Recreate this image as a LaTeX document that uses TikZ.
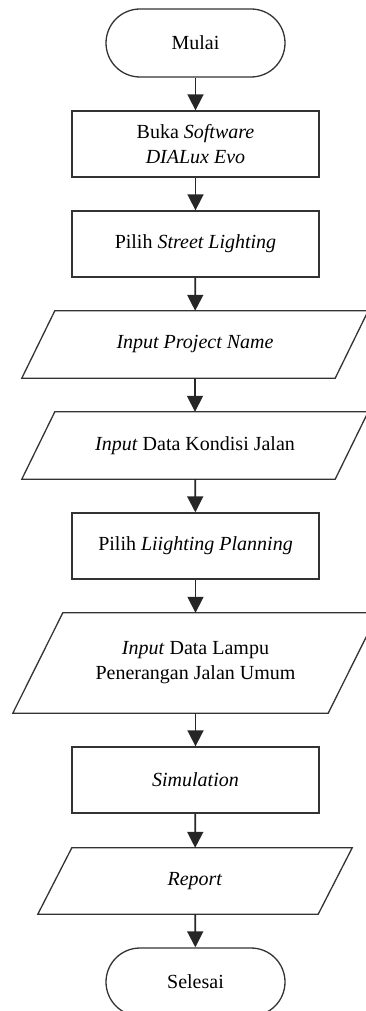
\documentclass[tikz,border=0pt]{standalone}
\usepackage{fontspec}
\setmainfont{Liberation Serif}
\usetikzlibrary{arrows.meta}

\tikzset{
  outline/.style={draw=black!80, line width=1.3pt},
  terminal/.style={outline, rounded corners=34pt, minimum width=179pt, minimum height=68pt, inner sep=0pt, align=center},
  process/.style={outline, minimum width=247pt, minimum height=66pt, inner sep=0pt, align=center},
  iobody/.style={minimum height=67pt, inner sep=0pt, align=center},
  flow/.style={draw=black!85, line width=1.7pt, -{Triangle[width=16pt,length=16pt]}},
}

% parallelogram drawn around an invisible body node: #1 node name, #2 half slant
\newcommand{\slantframe}[2]{%
  \draw[outline] ([xshift=-#2pt]#1.south west) -- ([xshift=-#2pt]#1.south east)
    -- ([xshift=#2pt]#1.north east) -- ([xshift=#2pt]#1.north west) -- cycle;}

\begin{document}
\begin{tikzpicture}[x=1pt, y=-1pt, font=\fontsize{20}{25}\selectfont]
  \useasboundingbox (0,0) rectangle (366,1011);
  \begin{scope}
    \clip (0,0) rectangle (366,1011);

    \node[terminal] (mulai) at (195.5,43) {Mulai};
    \node[process] (buka) at (195.5,144) {Buka \textit{Software}\\\textit{DIALux Evo}};
    \node[process] (street) at (195.5,244) {Pilih \textit{Street Lighting}};
    \node[iobody, minimum width=313pt] (project) at (195,344.5) {\textit{Input Project Name}};
    \slantframe{project}{16.5}
    \node[iobody, minimum width=313pt] (kondisi) at (195,445.5) {\textit{Input} Data Kondisi Jalan};
    \slantframe{kondisi}{16.5}
    \node[process] (planning) at (195.5,546) {Pilih \textit{Liighting Planning}};
    \node[iobody, minimum width=315pt, minimum height=100pt] (lampu) at (195.5,663) {\textit{Input} Data Lampu\\Penerangan Jalan Umum};
    \slantframe{lampu}{25}
    \node[process] (sim) at (195.5,780) {\textit{Simulation}};
    \node[iobody, minimum width=280pt, minimum height=66pt] (report) at (195,881) {\textit{Report}};
    \slantframe{report}{17}
    \node[terminal] (selesai) at (195.5,982) {Selesai};

    \draw[flow] (mulai) -- (buka);
    \draw[flow] (buka) -- (street);
    \draw[flow] (street) -- (project);
    \draw[flow] (project) -- (kondisi);
    \draw[flow] (kondisi) -- (planning);
    \draw[flow] (planning) -- (lampu);
    \draw[flow] (lampu) -- (sim);
    \draw[flow] (sim) -- (report);
    \draw[flow] (report) -- (selesai);
  \end{scope}
\end{tikzpicture}
\end{document}
